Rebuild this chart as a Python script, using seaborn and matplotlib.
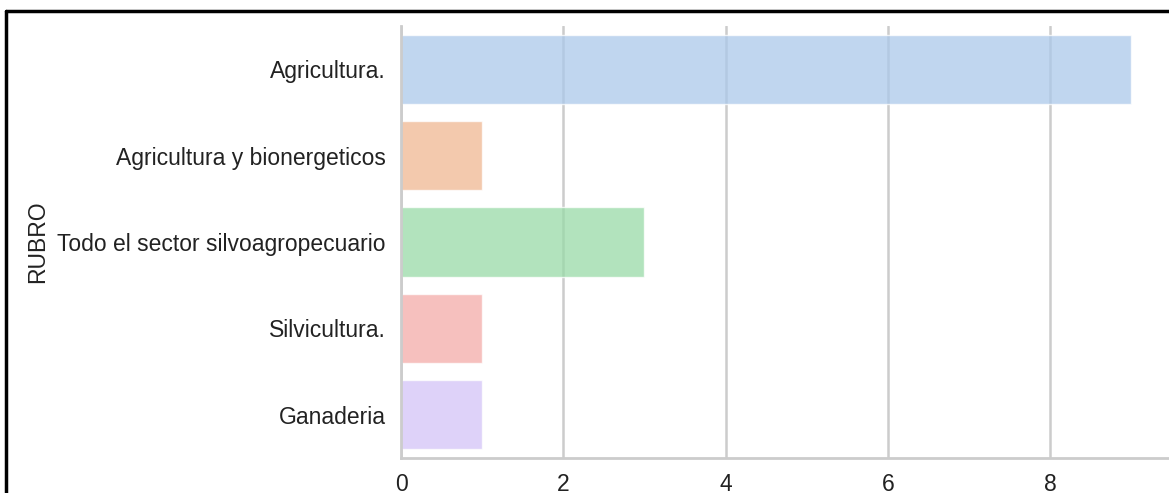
import matplotlib
matplotlib.use("Agg")
import matplotlib.pyplot as plt
import seaborn as sns
import pandas as pd
from matplotlib.lines import Line2D

# datos
rubros = ['Agricultura.', 'Agricultura y bionergeticos',
          'Todo el sector silvoagropecuario', 'Silvicultura.', 'Ganaderia']
conteo = [9, 1, 3, 1, 1]

df = pd.DataFrame({'RUBRO': rubros, 'count': conteo})

sns.set_theme(style='whitegrid', palette='pastel')
plt.rcParams['font.family'] = ['Liberation Sans', 'DejaVu Sans']

fig = plt.figure(figsize=(11.69, 4.93), dpi=100)
ax = fig.add_axes([401 / 1169, 35 / 493, 767 / 1169, 432 / 493])

sns.barplot(data=df, y='RUBRO', x='count', hue='RUBRO', palette='pastel',
            alpha=0.75, legend=False, ax=ax)
sns.despine(ax=ax, top=True, right=True)

ax.set_xticks([0, 2, 4, 6, 8])
ax.tick_params(axis='y', labelsize=16.5, pad=5, colors='#222222')
ax.tick_params(axis='x', labelsize=16.5, pad=5, colors='#222222')
ax.set_ylabel('RUBRO', fontsize=16.5, labelpad=6, color='#222222')
ax.set_xlabel('')
for s in ['left', 'bottom']:
    ax.spines[s].set_color('#cccccc')
    ax.spines[s].set_linewidth(2)
ax.grid(axis='x', color='#cccccc', linewidth=1.8)

# marco negro del recorte
fig.add_artist(Line2D([6 / 1169, 6 / 1169], [0, 1 - 11 / 493], color='black', lw=2.5))
fig.add_artist(Line2D([6 / 1169, 1], [1 - 11 / 493, 1 - 11 / 493], color='black', lw=2.5))

fig.savefig('out.png', dpi=100)
